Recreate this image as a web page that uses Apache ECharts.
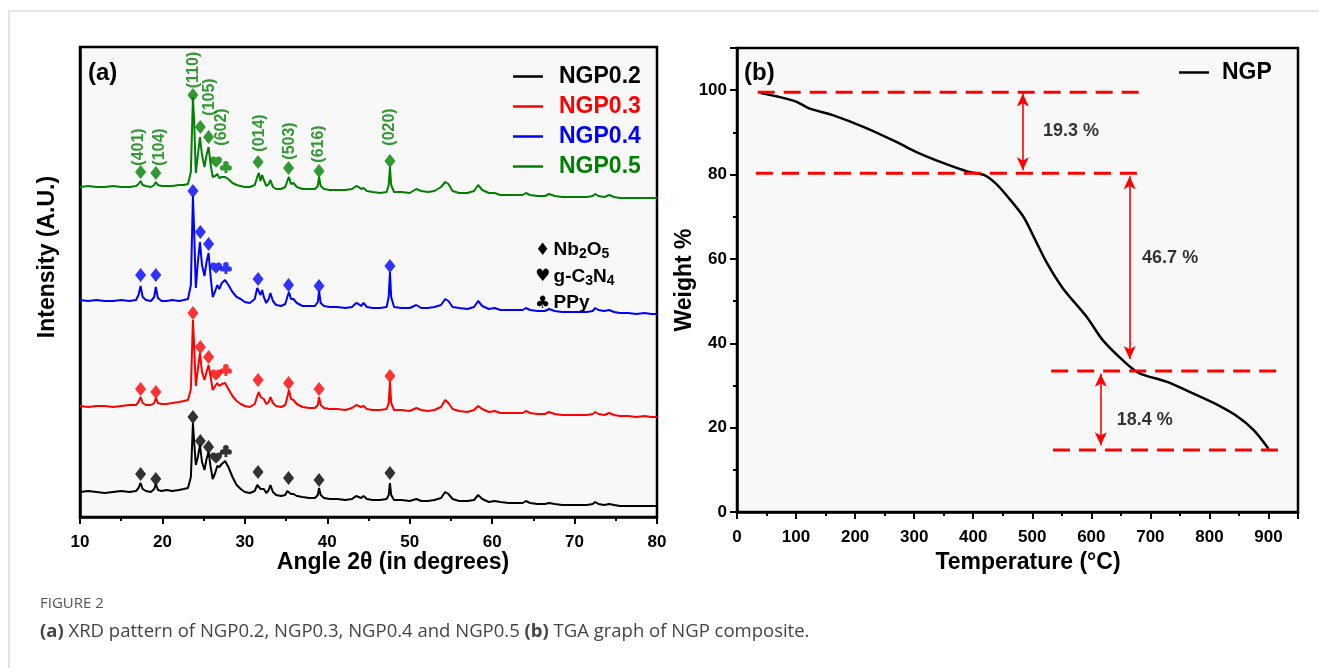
<!DOCTYPE html>
<html>
<head>
<meta charset="utf-8">
<script src="https://cdn.jsdelivr.net/npm/echarts@6/dist/echarts.min.js"></script>
<style>
  html, body { margin: 0; padding: 0; background: #fff; }
  #main { width: 1319px; height: 668px; }
</style>
</head>
<body>
<div id="main"></div>
<script>
// ---- (a) XRD patterns, 2θ grid shared by the four samples ----
const angles = [
  10, 11, 12, 13, 14, 15, 16, 16.8, 17.1, 17.35,
  17.6, 18.0, 18.6, 19.0, 19.2, 19.45, 19.9, 20.5, 21.2, 22.0,
  22.6, 23.1, 23.45, 23.7, 23.85, 24.05, 24.3, 24.55, 24.8, 25.1,
  25.35, 25.6, 25.85, 26.1, 26.4, 26.65, 26.9, 27.2, 27.6, 28.0,
  28.5, 29.0, 29.5, 30.0, 30.6, 31.2, 31.5, 31.7, 31.9, 32.1,
  32.3, 32.6, 32.9, 33.1, 33.4, 33.8, 34.4, 34.9, 35.15, 35.35,
  35.6, 35.9, 36.3, 37.0, 37.8, 38.5, 38.85, 39.0, 39.2, 39.6,
  40.3, 41.2, 42.2, 43.0, 43.5, 43.8, 44.1, 44.4, 44.8, 45.5,
  46.4, 47.2, 47.45, 47.6, 47.75, 48.1, 49.0, 50.0, 50.8, 51.4,
  52.2, 53.0, 53.8, 54.3, 54.7, 55.2, 56.0, 57.0, 57.8, 58.3,
  58.8, 59.6, 60.3, 61.0, 62.0, 63.0, 63.7, 64.1, 64.6, 65.5,
  66.4, 66.9, 67.6, 68.5, 69.5, 70.5, 71.5, 72.2, 72.5, 72.9,
  73.6, 74.2, 74.8, 75.5, 76.5, 77.5, 78.5, 79.3, 80
];
// intensities (a.u., stacked as plotted)
const ngp02 = [
  25, 26, 25, 24, 25, 26, 25, 26, 29, 34,
  28, 26, 25, 28, 33, 27, 26, 27, 26, 27,
  28, 29, 40, 94, 75, 52, 60, 72, 55, 47,
  58, 65, 50, 38, 44, 51, 50, 53, 56, 50,
  40, 32, 28, 25, 24, 26, 32, 34, 28, 30,
  28, 24, 27, 32, 25, 22, 21, 22, 26, 28,
  23, 23, 21, 20, 19, 19, 22, 29, 22, 19,
  18, 18, 17, 18, 21, 20, 19, 21, 18, 17,
  17, 18, 22, 34, 22, 17, 17, 16, 18, 16,
  16, 17, 19, 25, 23, 18, 16, 16, 17, 22,
  18, 15, 16, 15, 14, 14, 14, 16, 14, 13,
  13, 14, 13, 12, 12, 12, 12, 13, 15, 13,
  12, 13, 12, 11, 11, 11, 11, 11, 11
];
const ngp03 = [
  111, 110, 111, 111, 110, 111, 112, 112, 115, 120,
  114, 112, 112, 114, 119, 114, 113, 113, 114, 115,
  116, 117, 128, 197, 170, 131, 148, 164, 145, 137,
  145, 152, 140, 127, 131, 134, 131, 133, 134, 128,
  121, 116, 113, 111, 110, 113, 121, 125, 120, 122,
  118, 113, 115, 120, 114, 111, 110, 112, 120, 127,
  118, 117, 113, 110, 109, 109, 112, 120, 112, 109,
  108, 108, 107, 109, 112, 111, 110, 111, 108, 107,
  107, 108, 114, 135, 114, 107, 107, 106, 109, 107,
  106, 107, 110, 117, 114, 108, 106, 105, 107, 111,
  108, 105, 106, 104, 104, 104, 104, 106, 104, 103,
  103, 105, 103, 102, 102, 102, 102, 103, 105, 103,
  102, 104, 102, 101, 101, 100, 101, 100, 100
];
const ngp04 = [
  217, 216, 217, 216, 216, 217, 216, 217, 222, 231,
  220, 217, 216, 220, 230, 219, 216, 216, 217, 216,
  217, 218, 232, 321, 285, 229, 255, 275, 252, 241,
  255, 264, 240, 220, 226, 232, 228, 234, 237, 232,
  225, 220, 218, 215, 214, 218, 229, 228, 222, 227,
  220, 214, 218, 224, 216, 212, 211, 213, 220, 225,
  218, 218, 214, 211, 211, 211, 215, 226, 214, 211,
  210, 210, 209, 210, 214, 213, 211, 214, 210, 209,
  209, 210, 220, 245, 220, 210, 209, 209, 212, 209,
  209, 210, 212, 218, 216, 210, 209, 208, 210, 216,
  211, 208, 209, 207, 207, 207, 207, 209, 207, 206,
  206, 208, 206, 205, 205, 205, 205, 206, 209, 207,
  206, 207, 205, 204, 204, 203, 204, 203, 203
];
const ngp05 = [
  330, 331, 330, 330, 331, 330, 330, 331, 333, 336,
  332, 331, 330, 332, 335, 332, 331, 331, 331, 332,
  332, 333, 345, 420, 395, 344, 362, 380, 362, 350,
  362, 370, 352, 340, 341, 343, 339, 340, 340, 338,
  334, 332, 331, 330, 330, 332, 340, 344, 336, 342,
  337, 331, 333, 337, 330, 328, 328, 330, 336, 340,
  333, 334, 330, 328, 328, 328, 331, 340, 331, 328,
  327, 327, 327, 328, 331, 330, 328, 329, 326, 325,
  324, 325, 332, 350, 332, 325, 325, 324, 328, 326,
  325, 326, 330, 335, 333, 326, 324, 324, 326, 332,
  327, 324, 324, 322, 322, 322, 322, 324, 322, 321,
  321, 323, 321, 320, 320, 320, 320, 321, 323, 321,
  320, 322, 320, 319, 319, 319, 319, 319, 319
];

// phase markers: d = Nb2O5, h = g-C3N4, c = PPy
const markAngles = [17.35, 19.2, 23.7, 24.6, 25.6, 26.5, 27.7, 31.6, 35.3, 39.0, 47.6];
const markKinds = ['d', 'd', 'd', 'd', 'd', 'h', 'c', 'd', 'd', 'd', 'd'];
const mark02 = [43, 38, 100, 76, 70, 59, 66, 45, 39, 37, 44];
const mark03 = [128, 125, 204, 170, 160, 142, 147, 137, 134, 128, 141];
const mark04 = [242, 242, 326, 285, 273, 249, 249, 238, 232, 231, 251];
const mark05 = [345, 344, 422, 390, 380, 355, 350, 355, 349, 346, 356];

// Miller indices written over NGP0.5
const hklNames = ['(401)', '(104)', '(110)', '(105)', '(602)', '(014)', '(503)', '(616)', '(020)'];
const hklAngles = [17.1, 19.6, 23.75, 25.7, 27.2, 31.75, 35.4, 39.0, 47.6];
const hklHeights = [370, 370, 447, 420, 390, 384, 376, 373, 390];

// ---- (b) TGA ----
const tgaTemp = [40, 68, 100, 122, 162, 216, 269, 303, 350, 391, 418, 438, 458, 485,
  505, 525, 552, 592, 619, 653, 680, 727, 760, 808, 848, 875, 900];
const tgaWeight = [99.3, 98.5, 97.3, 95.7, 94.1, 91.2, 87.8, 85.4, 82.7, 80.7, 79.9, 77.9, 74.8, 70.0,
  64.5, 59.0, 53.0, 46.3, 40.8, 36.0, 33.0, 30.9, 28.9, 25.8, 22.6, 19.4, 15.0];

const stepLevels = [99.5, 80.3, 33.4, 14.7];
const stepFrom = [35, 32, 532, 535];
const stepTo = [690, 692, 928, 930];

const arrowTemps = [484, 665, 616];
const arrowTop = [99.2, 79.6, 32.8];
const arrowBottom = [81.0, 36.3, 15.8];

const lossLabels = ['19.3 %', '46.7 %', '18.4 %'];
const lossTemp = [518, 686, 643];
const lossWeight = [90.2, 60.2, 21.8];

const FONT = '"Liberation Sans", Arial, sans-serif';
const HEART = 'path://M12 21.4L10.6 20.1C5.4 15.4 2 12.3 2 8.5 2 5.4 4.4 3 7.5 3c1.7 0 3.4.8 4.5 2.1C13.1 3.8 14.8 3 16.5 3 19.6 3 22 5.4 22 8.5c0 3.8-3.4 6.9-8.6 11.6L12 21.4z';
const CLUB = 'path://M7.5 6.5a4.5 4.5 0 1 1 9 0a4.5 4.5 0 1 1-9 0ZM2.5 13.5a4.5 4.5 0 1 1 9 0a4.5 4.5 0 1 1-9 0ZM12.5 13.5a4.5 4.5 0 1 1 9 0a4.5 4.5 0 1 1-9 0ZM11 10L13 10L14.5 22L9.5 22Z';
const SYM = { d: 'diamond', h: HEART, c: CLUB };
const SYM_SIZE = { d: [11, 14], h: [12, 11], c: [12, 12] };

const xrd = [
  { name: 'NGP0.2', color: '#000000', values: ngp02, marks: mark02 },
  { name: 'NGP0.3', color: '#ff0000', values: ngp03, marks: mark03 },
  { name: 'NGP0.4', color: '#0000ff', values: ngp04, marks: mark04 },
  { name: 'NGP0.5', color: '#008000', values: ngp05, marks: mark05 }
];

const chart = echarts.init(document.getElementById('main'));

const series = [];
xrd.forEach((s) => {
  series.push({
    name: s.name,
    type: 'line',
    xAxisIndex: 0,
    yAxisIndex: 0,
    symbol: 'none',
    color: s.color,
    lineStyle: { color: s.color, width: 2 },
    data: angles.map((a, i) => [a, s.values[i]])
  });
});
xrd.forEach((s) => {
  series.push({
    name: s.name + ' markers',
    type: 'scatter',
    xAxisIndex: 0,
    yAxisIndex: 0,
    z: 4,
    itemStyle: { color: s.color },
    data: markAngles.map((a, i) => ({
      value: [a, s.marks[i]],
      symbol: SYM[markKinds[i]],
      symbolSize: SYM_SIZE[markKinds[i]]
    }))
  });
});
// hkl labels
series.push({
  name: 'hkl',
  type: 'scatter',
  xAxisIndex: 0,
  yAxisIndex: 0,
  symbolSize: 0,
  label: {
    show: true,
    position: 'inside',
    formatter: '{b}',
    rotate: 90,
    color: '#008000',
    fontFamily: FONT,
    fontWeight: 'bold',
    fontSize: 16
  },
  data: hklNames.map((n, i) => ({ name: n, value: [hklAngles[i], hklHeights[i]] }))
});

// TGA curve + arrows
series.push({
  name: 'NGP',
  type: 'line',
  xAxisIndex: 1,
  yAxisIndex: 1,
  symbol: 'none',
  smooth: 0.3,
  color: '#000000',
  lineStyle: { color: '#000000', width: 2.5 },
  data: tgaTemp.map((t, i) => [t, tgaWeight[i]]),
  markLine: {
    silent: true,
    animation: false,
    symbol: ['arrow', 'arrow'],
    symbolSize: [9, 13],
    label: { show: false },
    lineStyle: { color: '#ff0000', width: 1.6, type: 'solid' },
    data: arrowTemps.map((t, i) => [{ coord: [t, arrowTop[i]] }, { coord: [t, arrowBottom[i]] }])
  }
});
stepLevels.forEach((lv, i) => {
  series.push({
    name: 'step' + i,
    type: 'line',
    xAxisIndex: 1,
    yAxisIndex: 1,
    symbol: 'none',
    lineStyle: { color: '#ff0000', width: 3, type: [17, 9] },
    data: [[stepFrom[i], lv], [stepTo[i], lv]]
  });
});
series.push({
  name: 'loss',
  type: 'scatter',
  xAxisIndex: 1,
  yAxisIndex: 1,
  symbolSize: 0,
  label: {
    show: true,
    position: 'right',
    distance: 0,
    formatter: '{b}',
    color: '#000',
    fontFamily: FONT,
    fontWeight: 'bold',
    fontSize: 18
  },
  data: lossLabels.map((n, i) => ({ name: n, value: [lossTemp[i], lossWeight[i]] }))
});

const axisLabel = { color: '#000', fontFamily: FONT, fontWeight: 'bold', fontSize: 17 };
const axisLine = { show: true, lineStyle: { color: '#000', width: 2.5 } };
const tick = { show: true, inside: false, length: 7, lineStyle: { color: '#000', width: 2 } };
const minor = { show: true, splitNumber: 2, length: 4, lineStyle: { color: '#000', width: 2 } };

const legendText = {
  fontFamily: FONT, fontWeight: 'bold', fontSize: 23, lineHeight: 23
};
const titleFont = 'bold 23px ' + FONT;

const option = {
  animation: false,
  backgroundColor: '#ffffff',
  grid: [
    { left: 80, top: 47, width: 577, height: 470, show: true, backgroundColor: '#f8f8f8', borderColor: '#000', borderWidth: 2.5 },
    { left: 737, top: 48, width: 561, height: 464, show: true, backgroundColor: '#f8f8f8', borderColor: '#000', borderWidth: 2.5 }
  ],
  xAxis: [
    {
      type: 'value', gridIndex: 0, min: 10, max: 80, interval: 10,
      axisLine, axisTick: tick, minorTick: minor,
      axisLabel: Object.assign({ margin: 17 }, axisLabel),
      splitLine: { show: false }
    },
    {
      type: 'value', gridIndex: 1, min: 0, max: 950, interval: 100,
      axisLine, axisTick: tick, minorTick: minor,
      axisLabel: Object.assign({ margin: 17, showMaxLabel: false }, axisLabel),
      splitLine: { show: false }
    }
  ],
  yAxis: [
    {
      type: 'value', gridIndex: 0, min: 0, max: 470,
      axisLine, axisTick: { show: false }, axisLabel: { show: false },
      splitLine: { show: false }
    },
    {
      type: 'value', gridIndex: 1, min: 0, max: 110, interval: 20,
      axisLine, axisTick: tick, minorTick: minor,
      axisLabel: Object.assign({ margin: 10, showMaxLabel: false }, axisLabel),
      splitLine: { show: false }
    }
  ],
  legend: [
    {
      orient: 'vertical', left: 508, top: 60, itemWidth: 30, itemHeight: 2.5, itemGap: 7,
      icon: 'rect', selectedMode: false,
      textStyle: Object.assign({ padding: [0, 0, 0, 11] }, legendText),
      data: xrd.map((s) => ({ name: s.name, textStyle: { color: s.color } }))
    },
    {
      orient: 'vertical', left: 1174, top: 56, itemWidth: 30, itemHeight: 2.5,
      icon: 'rect', selectedMode: false,
      textStyle: Object.assign({ padding: [0, 0, 0, 8], color: '#000' }, legendText),
      data: ['NGP']
    }
  ],
  graphic: [
    { type: 'line', silent: true, shape: { x1: 9, y1: 11, x2: 1319, y2: 11 }, style: { stroke: '#c8c8c8', lineWidth: 1 } },
    { type: 'line', silent: true, shape: { x1: 9, y1: 11, x2: 9, y2: 668 }, style: { stroke: '#c8c8c8', lineWidth: 1 } },
    { type: 'text', x: 88, y: 73, style: { text: '(a)', font: 'bold 24px ' + FONT, fill: '#000', verticalAlign: 'middle', textVerticalAlign: 'middle' } },
    { type: 'text', x: 744, y: 73, style: { text: '(b)', font: 'bold 24px ' + FONT, fill: '#000', verticalAlign: 'middle', textVerticalAlign: 'middle' } },
    {
      type: 'text', x: 535, y: 237,
      style: {
        text: '{s|♦} {t|Nb}{u|2}{t|O}{u|5}\n{s|♥} {t|g-C}{u|3}{t|N}{u|4}\n{s|♣} {t|PPy}',
        fill: '#000',
        verticalAlign: 'top', textVerticalAlign: 'top',
        rich: {
          s: { fontFamily: '"DejaVu Sans"', fontSize: 17, lineHeight: 26.5, verticalAlign: 'middle' },
          t: { fontFamily: FONT, fontWeight: 'bold', fontSize: 19, lineHeight: 26.5, verticalAlign: 'middle' },
          u: { fontFamily: FONT, fontWeight: 'bold', fontSize: 14, lineHeight: 14, verticalAlign: 'bottom', padding: [0, 0, 2, 0] }
        }
      }
    },
    { type: 'text', x: 393, y: 563, style: { text: 'Angle 2θ (in degrees)', font: titleFont, fill: '#000', align: 'center', textAlign: 'center', verticalAlign: 'middle', textVerticalAlign: 'middle' } },
    { type: 'text', x: 48, y: 257, rotation: Math.PI / 2, style: { text: 'Intensity (A.U.)', font: titleFont, fill: '#000', align: 'center', textAlign: 'center', verticalAlign: 'middle', textVerticalAlign: 'middle' } },
    { type: 'text', x: 1028, y: 563, style: { text: 'Temperature (°C)', font: titleFont, fill: '#000', align: 'center', textAlign: 'center', verticalAlign: 'middle', textVerticalAlign: 'middle' } },
    { type: 'text', x: 685, y: 280, rotation: Math.PI / 2, style: { text: 'Weight %', font: titleFont, fill: '#000', align: 'center', textAlign: 'center', verticalAlign: 'middle', textVerticalAlign: 'middle' } },
    { type: 'text', x: 40, y: 604, style: { text: 'FIGURE 2', font: '15px "Open Sans", sans-serif', fill: '#555', verticalAlign: 'middle', textVerticalAlign: 'middle' } },
    {
      type: 'text', x: 40, y: 632,
      style: {
        text: '{b|(a)} XRD pattern of NGP0.2, NGP0.3, NGP0.4 and NGP0.5 {b|(b)} TGA graph of NGP composite.',
        font: '18.5px "Open Sans", sans-serif', fill: '#444',
        verticalAlign: 'middle', textVerticalAlign: 'middle',
        rich: { b: { fontFamily: '"Open Sans", sans-serif', fontSize: 18.5, fontWeight: 'bold', fill: '#444', color: '#444' } }
      }
    }
  ],
  series
};

chart.setOption(option);
</script>
</body>
</html>
